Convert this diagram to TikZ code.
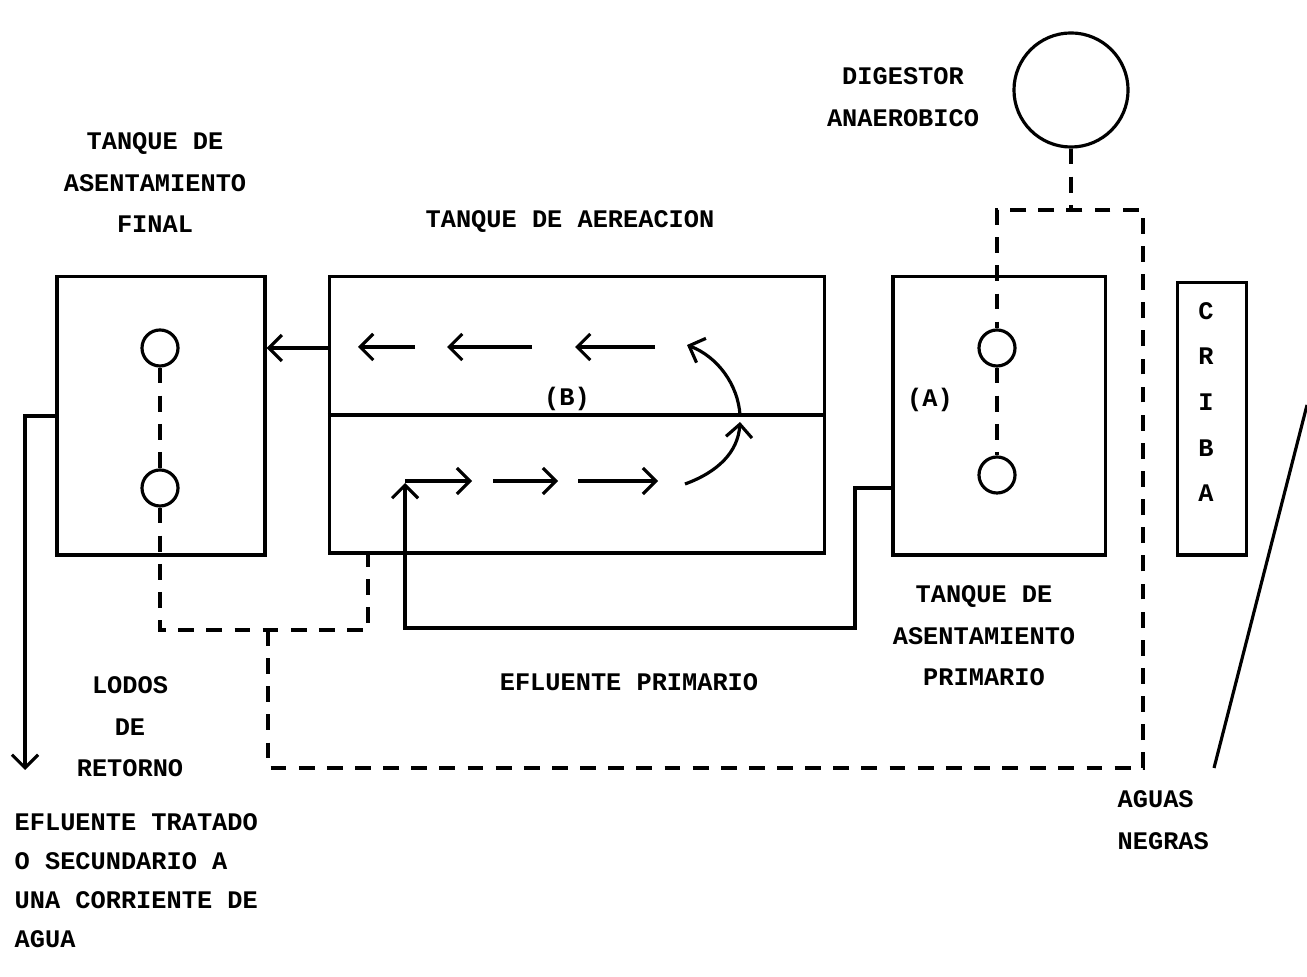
\documentclass[tikz,border=0pt]{standalone}
\usepackage{fontspec}
\setmonofont{Liberation Mono}
\usetikzlibrary{arrows.meta}
\tikzset{
  tanque/.style={draw, line width=0.9pt, inner sep=0pt},
  orificio/.style={draw, circle, line width=0.9pt, minimum size=0.36cm, inner sep=0pt},
  lodo/.style={line width=0.9pt, dash pattern=on 4.5pt off 3.5pt},
  flujo/.style={line width=0.9pt, ->},
  rotulo/.style={font=\ttfamily\bfseries\fontsize{7.2}{11.8}\selectfont, align=center, inner sep=0pt},
}
\begin{document}
\begin{tikzpicture}[x=0.01cm, y=-0.01cm, >={Straight Barb[length=1.3mm, width=2.6mm]}]
\useasboundingbox (0,0) rectangle (1307,977);

% tanques
\node[tanque, minimum width=2.08cm, minimum height=2.78cm] (final) at (161,416) {};
\node[tanque, minimum width=4.95cm, minimum height=2.76cm] (aereacion) at (577,415) {};
\node[tanque, minimum width=2.12cm, minimum height=2.78cm] (primario) at (999,416) {};
\node[tanque, minimum width=0.69cm, minimum height=2.72cm] (criba) at (1212,419) {};
\node[orificio, minimum size=1.14cm] (digestor) at (1071,90) {};

% orificios de los tanques
\node[orificio] (f1) at (160,348) {};
\node[orificio] (f2) at (160,488) {};
\node[orificio] (p1) at (997,348) {};
\node[orificio] (p2) at (997,475) {};

% division del tanque de aereacion
\draw[line width=0.9pt] (aereacion.west) -- (aereacion.east);
\node[rotulo, anchor=south] (b) at (567,411) {(B)};
\node[rotulo] (a) at (930,400) {(A)};

% puntos de paso
\coordinate (retorno) at (368,630);
\coordinate (union) at (268,630);
\coordinate (esquina) at (268,768);
\coordinate (entrada) at (1143,768);
\coordinate (reparto) at (1143,210);
\coordinate (salida) at (25,770);
\coordinate (codo) at (855,628);

% lineas de lodos (punteadas)
\draw[lodo] (f1) -- (f2);
\draw[lodo] (f2) |- (retorno) -- (retorno |- aereacion.south);
\draw[lodo] (union) -- (esquina) -- (entrada) -- (reparto) -| (p1);
\draw[lodo] (p1) -- (p2);
\draw[lodo] (digestor) -- (digestor |- reparto);

% lineas de agua
\draw[flujo] (aereacion.west |- f1) -- (final.east |- f1);
\draw[flujo] (final.west) -| (salida);
\draw[flujo] (primario.west |- f2) -| (codo) -| (405,483);
\draw[line width=0.9pt] (1307,405) -- (1214,768);

% flujo dentro del tanque de aereacion
\foreach \a/\b in {405/472, 493/558, 578/658}
  \draw[flujo] (\a,481) -- (\b,481);
\foreach \a/\b in {415/358, 532/447, 655/575}
  \draw[flujo] (\a,347) -- (\b,347);
\draw[flujo] (685,484) .. controls (718,472) and (738,452) .. (740,422);
\draw[flujo] (740,415) .. controls (738,385) and (718,357) .. (687,345);

% rotulos
\node[rotulo] (tfinal) at (155,183) {TANQUE DE\\ASENTAMIENTO\\FINAL};
\node[rotulo] (taer) at (570,222) {TANQUE DE AEREACION};
\node[rotulo] (tdig) at (903,97) {DIGESTOR\\ANAEROBICO};
\node[rotulo] (tprim) at (984,636) {TANQUE DE\\ASENTAMIENTO\\PRIMARIO};
\node[rotulo] (tlodos) at (130,727) {LODOS\\DE\\RETORNO};
\node[rotulo] (tef) at (629,682) {EFLUENTE PRIMARIO};
\node[rotulo, anchor=west, align=left] (tneg) at (1117,820) {AGUAS\\NEGRAS};
\node[rotulo, anchor=west, align=left, font=\ttfamily\bfseries\fontsize{7.2}{11.1}\selectfont] (tsal) at (14,881) {EFLUENTE TRATADO\\O SECUNDARIO A\\UNA CORRIENTE DE\\AGUA};
\node[rotulo, font=\ttfamily\bfseries\fontsize{7.2}{13}\selectfont] (letras) at (1206,402) {C\\R\\I\\B\\A};
\end{tikzpicture}
\end{document}
